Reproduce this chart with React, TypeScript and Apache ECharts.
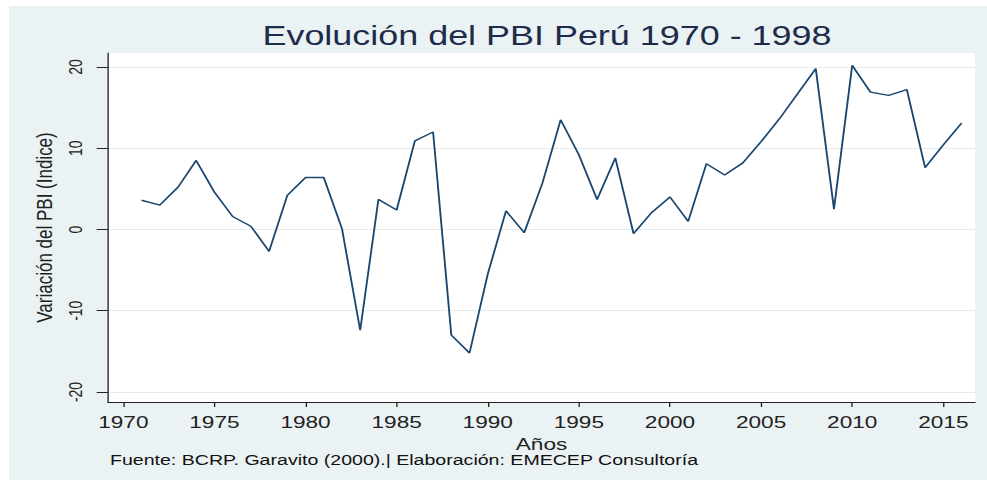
import React, { useEffect, useRef } from "react";
import * as echarts from "echarts";

// ---- data ----
const years = [
  1971, 1972, 1973, 1974, 1975, 1976, 1977, 1978, 1979, 1980,
  1981, 1982, 1983, 1984, 1985, 1986, 1987, 1988, 1989, 1990,
  1991, 1992, 1993, 1994, 1995, 1996, 1997, 1998, 1999, 2000,
  2001, 2002, 2003, 2004, 2005, 2006, 2007, 2008, 2009, 2010,
  2011, 2012, 2013, 2014, 2015, 2016,
];
const pbiVariation = [
  3.6, 3.0, 5.2, 8.5, 4.6, 1.6, 0.4, -2.7, 4.2, 6.4,
  6.4, 0.1, -12.4, 3.7, 2.4, 10.9, 12.0, -13.0, -15.2, -5.5,
  2.3, -0.4, 5.7, 13.5, 9.2, 3.7, 8.8, -0.5, 2.1, 4.0,
  1.0, 8.1, 6.7, 8.2, 10.8, 13.6, 16.7, 19.8, 2.5, 20.2,
  16.9, 16.5, 17.2, 7.6, 10.4, 13.1,
];
const xTickValues = [1970, 1975, 1980, 1985, 1990, 1995, 2000, 2005, 2010, 2015];
const yTickValues = [-20, -10, 0, 10, 20];

const titleText = "Evolución del PBI Perú 1970 - 1998";
const yAxisTitle = "Variación del PBI (Indice)";
const xAxisTitle = "Años";
const sourceNote = "Fuente: BCRP. Garavito (2000).| Elaboración: EMECEP Consultoría";

// The reference image is horizontally stretched; reproduce with a CSS scaleX.
const CHART_W = 735;
const CHART_H = 474;
const STRETCH = 978 / CHART_W;

const FONT = "'Liberation Sans', Arial, Helvetica, sans-serif";

export default function App() {
  const ref = useRef<HTMLDivElement>(null);

  useEffect(() => {
    if (!ref.current) return;
    const chart = echarts.init(ref.current, null, {
      renderer: "svg",
      width: CHART_W,
      height: CHART_H,
    });
    const data = years.map((y, i) => [y, pbiVariation[i]]);
    chart.setOption({
      animation: false,
      backgroundColor: "#eaf2f3",
      textStyle: { fontFamily: FONT },
      grid: {
        left: 74.4,
        right: 9,
        top: 47,
        bottom: 78,
        show: true,
        backgroundColor: "#ffffff",
        borderWidth: 0,
      },
      xAxis: {
        type: "value",
        min: 1969.16,
        max: 2016.74,
        name: xAxisTitle,
        nameLocation: "middle",
        nameGap: 26.5,
        nameTextStyle: { fontSize: 17, color: "#222", lineHeight: 17, fontFamily: FONT },
        axisLine: { show: true, onZero: false, lineStyle: { color: "#222", width: 1 } },
        axisTick: {
          show: true,
          length: 5,
          customValues: xTickValues,
          lineStyle: { color: "#222", width: 1 },
        },
        axisLabel: {
          customValues: xTickValues,
          fontSize: 17,
          lineHeight: 17,
          color: "#222",
          margin: 11.5,
          fontFamily: FONT,
          formatter: (v: number) => String(v),
        },
        splitLine: { show: false },
      },
      yAxis: {
        type: "value",
        min: -21.23,
        max: 21.72,
        name: yAxisTitle,
        nameLocation: "middle",
        nameGap: 38.8,
        nameTextStyle: {
          fontSize: 17,
          lineHeight: 17,
          color: "#222",
          fontFamily: FONT,
        },
        axisLine: { show: true, onZero: false, lineStyle: { color: "#222", width: 1 } },
        axisTick: {
          show: true,
          length: 8.5,
          customValues: yTickValues,
          lineStyle: { color: "#222", width: 1 },
        },
        axisLabel: {
          customValues: yTickValues,
          rotate: 90,
          fontSize: 14,
          lineHeight: 14,
          color: "#222",
          margin: 18,
          fontFamily: FONT,
          formatter: (v: number) => String(v),
        },
        splitLine: { show: true, lineStyle: { color: "#e4eced", width: 1 } },
      },
      series: [
        {
          type: "line",
          data,
          showSymbol: false,
          symbol: "none",
          lineStyle: { color: "#1a476f", width: 1.4 },
        },
      ],
      graphic: [
        {
          type: "text",
          x: 404.3,
          y: 30,
          style: {
            text: titleText,
            fontSize: 27,
            fontFamily: FONT,
            fill: "#1f2b4a",
            align: "center",
            verticalAlign: "middle",
          },
        },
        {
          type: "text",
          x: 75.9,
          y: 454,
          style: {
            text: sourceNote,
            fontSize: 14.7,
            fontFamily: FONT,
            fill: "#111",
            align: "left",
            verticalAlign: "middle",
          },
        },
      ],
    });
    return () => chart.dispose();
  }, []);

  return (
    <div
      style={{
        position: "fixed",
        left: 0,
        top: 0,
        width: 987,
        height: 482,
        overflow: "hidden",
        background: "#ffffff",
      }}
    >
      <div
        ref={ref}
        style={{
          position: "absolute",
          left: 9,
          top: 6,
          width: CHART_W,
          height: CHART_H,
          transform: `scaleX(${STRETCH})`,
          transformOrigin: "0 0",
        }}
      />
    </div>
  );
}
